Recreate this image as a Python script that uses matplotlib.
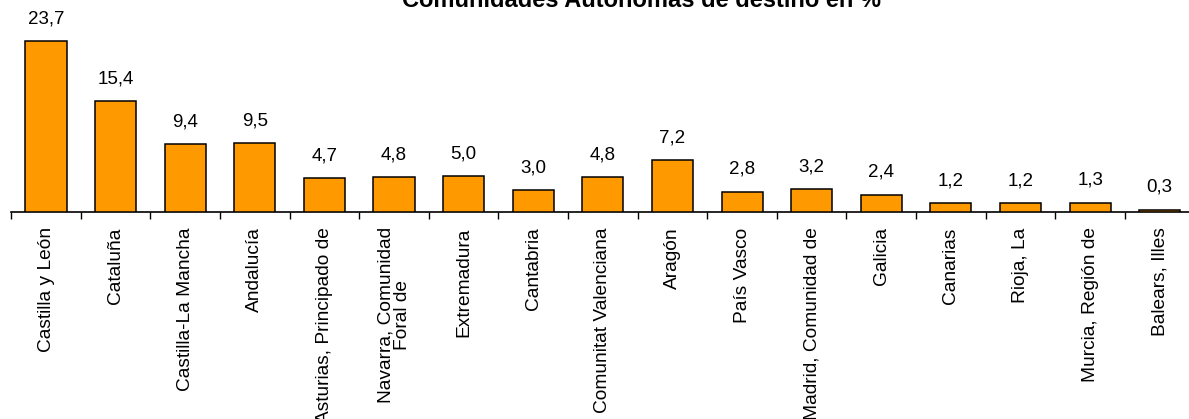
import numpy as np
from matplotlib import pyplot as plt

# data
comunidades = [
    "Castilla y León", "Cataluña", "Castilla-La Mancha", "Andalucía",
    "Asturias, Principado de", "Navarra, Comunidad\nForal de", "Extremadura",
    "Cantabria", "Comunitat Valenciana", "Aragón", "País Vasco",
    "Madrid, Comunidad de", "Galicia", "Canarias", "Rioja, La",
    "Murcia, Región de", "Balears, Illes",
]
porcentajes = [23.7, 15.4, 9.4, 9.5, 4.7, 4.8, 5.0, 3.0, 4.8, 7.2, 2.8,
               3.2, 2.4, 1.2, 1.2, 1.3, 0.3]
titulo = "Comunidades Autónomas de destino en %"

plt.rcParams["font.family"] = ["Liberation Sans", "DejaVu Sans"]

fig = plt.figure(figsize=(11.89, 4.19), dpi=100)
W, H = 1189, 419
x0, x1 = 11.2, 1194.5
base = 212
ax = fig.add_axes([x0 / W, (H - base) / H, (x1 - x0) / W, base / H])

x = np.arange(len(comunidades))
ax.bar(x, porcentajes, width=0.59, color="#FF9900", edgecolor="black",
       linewidth=1.1, zorder=3)

for xi, v in zip(x, porcentajes):
    ax.annotate(f"{v:.1f}".replace(".", ","), (xi, v), xytext=(0, 10),
                textcoords="offset points", ha="center", va="bottom",
                fontsize=13.5)

ax.set_xlim(-0.5, len(comunidades) - 0.5)
ax.set_ylim(0, base / 7.215)

# ticks at category boundaries, labels at centres
ax.set_xticks(np.arange(len(comunidades) + 1) - 0.5)
ax.set_xticklabels([])
ax.tick_params(axis="x", which="major", direction="out", length=5, width=1)
ax.set_xticks(x, minor=True)
ax.set_xticklabels(comunidades, minor=True, rotation=90, va="top",
                   ha="center", fontsize=13.8, linespacing=0.95)
ax.tick_params(axis="x", which="minor", length=0, pad=11)

ax.set_yticks([])
for s in ["top", "right", "left"]:
    ax.spines[s].set_visible(False)
ax.spines["bottom"].set_linewidth(1.2)
ax.patch.set_alpha(0)

fig.text(642 / W, 1 - 7 / H, titulo, ha="center", va="baseline",
         fontsize=17, fontweight="bold")

plt.savefig("out.png", dpi=100)
